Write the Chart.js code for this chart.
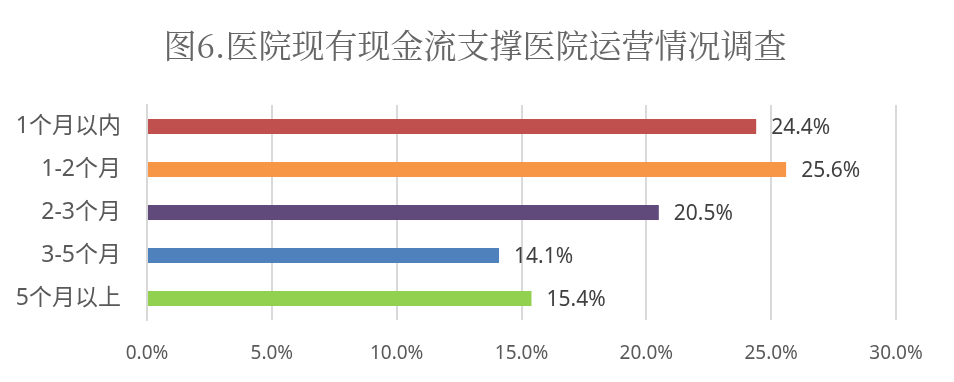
<!DOCTYPE html>
<html>
<head>
<meta charset="utf-8">
<script src="https://cdn.jsdelivr.net/npm/chart.js@4"></script>
<style>
  html, body { margin: 0; padding: 0; background: #fff; }
  #wrap { width: 954px; height: 382px; }
</style>
</head>
<body>
<div id="wrap"><canvas id="cashChart" width="954" height="382"></canvas></div>
<script>
const chartTitle = "图6.医院现有现金流支撑医院运营情况调查";
const categories = ["1个月以内", "1-2个月", "2-3个月", "3-5个月", "5个月以上"];
const shares = [24.4, 25.6, 20.5, 14.1, 15.4];
const barColors = ["#C0504D", "#F79646", "#604A7B", "#4F81BD", "#92D050"];
const tickValues = [0, 5, 10, 15, 20, 25, 30];

const baseFont = "'Noto Sans', 'Noto Sans CJK SC', sans-serif";

// title sits centred on the whole picture, not just the chart box
const titleText = {
  id: "titleText",
  afterDraw(chart) {
    const ctx = chart.ctx;
    ctx.save();
    ctx.font = "33px 'Noto Serif CJK SC', 'Noto Sans CJK SC', serif";
    ctx.fillStyle = "#666666";
    ctx.textAlign = "center";
    ctx.textBaseline = "middle";
    ctx.fillText(chartTitle, 475, 45);
    ctx.restore();
  }
};

// write the percentage just past the end of each bar
const valueLabels = {
  id: "valueLabels",
  afterDatasetsDraw(chart) {
    const ctx = chart.ctx;
    const meta = chart.getDatasetMeta(0);
    ctx.save();
    ctx.font = "21px " + baseFont;
    ctx.fillStyle = "#404040";
    ctx.textAlign = "left";
    ctx.textBaseline = "middle";
    meta.data.forEach((bar, i) => {
      ctx.fillText(shares[i].toFixed(1) + "%", bar.x + 15, bar.y + 2);
    });
    ctx.restore();
  }
};

new Chart(document.getElementById("cashChart"), {
  type: "bar",
  data: {
    labels: categories,
    datasets: [{
      data: shares,
      backgroundColor: barColors,
      categoryPercentage: 1,
      barPercentage: 0.35
    }]
  },
  options: {
    indexAxis: "y",
    responsive: false,
    animation: false,
    layout: { padding: { top: 105, left: 0, right: 58, bottom: 0 } },
    plugins: {
      legend: { display: false },
      tooltip: { enabled: false },
      title: { display: false }
    },
    scales: {
      x: {
        min: 0,
        max: 30,
        afterBuildTicks(scale) {
          scale.ticks = tickValues.map(v => ({ value: v }));
        },
        afterFit(scale) { scale.height = 62; },
        grid: { color: "#D9D9D9", lineWidth: 2, drawTicks: false },
        border: { display: false },
        ticks: {
          padding: 22,
          color: "#595959",
          font: { size: 19, family: baseFont },
          callback: v => v.toFixed(1) + "%"
        }
      },
      y: {
        afterFit(scale) { scale.width = 147; },
        grid: { display: false, drawTicks: false },
        border: { color: "#D9D9D9", width: 2 },
        ticks: {
          padding: 26,
          color: "#595959",
          font: { size: 23, family: baseFont }
        }
      }
    }
  },
  plugins: [valueLabels, titleText]
});
</script>
</body>
</html>
